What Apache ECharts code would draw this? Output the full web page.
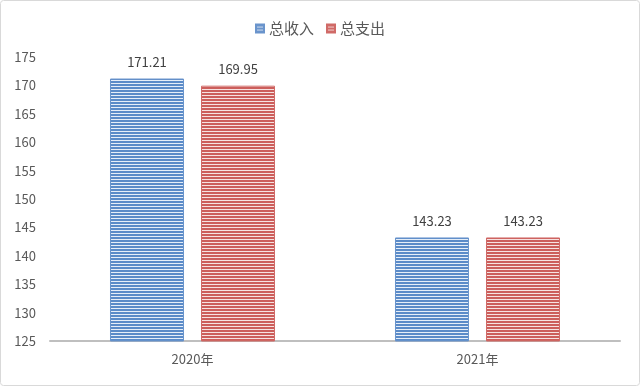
<!DOCTYPE html>
<html><head><meta charset="utf-8">
<script src="https://cdn.jsdelivr.net/npm/echarts@6/dist/echarts.min.js"></script>
<style>html,body{margin:0;padding:0;background:#fff}#c{width:640px;height:386px}</style>
</head><body><div id="c"></div>
<script>
const categories = ['2020年', '2021年'];
const seriesNames = ['总收入', '总支出'];
const incomeValues = [171.21, 143.23];
const expenseValues = [169.95, 143.23];
const yTicks = [125, 130, 135, 140, 145, 150, 155, 160, 165, 170, 175];

function stripe(base, light) {
  const cv = document.createElement('canvas');
  cv.width = 4; cv.height = 3;
  const ctx = cv.getContext('2d');
  ctx.fillStyle = base; ctx.fillRect(0, 0, 4, 3);
  ctx.fillStyle = light; ctx.fillRect(0, 2, 4, 1);
  return {image: cv, repeat: 'repeat'};
}
const chart = echarts.init(document.getElementById('c'), null, {renderer: 'canvas'});
const font = "'Microsoft YaHei','Noto Sans CJK SC',sans-serif";
chart.setOption({
  animation: false,
  textStyle: {fontFamily: font},
  graphic: [{type: 'rect', shape: {x: 0.5, y: 0.5, width: 639, height: 385, r: 3},
    style: {fill: 'none', stroke: '#d9d9d9', lineWidth: 1}, silent: true}],
  legend: {
    top: 16, left: 'center', itemWidth: 8, itemHeight: 8, itemGap: 12, icon: 'rect',
    textStyle: {color: '#595959', fontSize: 15, fontFamily: font},
    data: [{name: seriesNames[0], itemStyle: {color: stripe('#6a94cc', '#cfdcee')}},
           {name: seriesNames[1], itemStyle: {color: stripe('#d06a67', '#f0cfce')}}]
  },
  grid: {left: 50, right: 20, top: 57, bottom: 45},
  xAxis: {
    type: 'category', data: categories,
    axisLine: {lineStyle: {color: '#bfbfbf', width: 2}},
    axisTick: {show: false},
    axisLabel: {color: '#595959', fontSize: 13, margin: 12}
  },
  yAxis: {
    type: 'value', min: yTicks[0], max: yTicks[yTicks.length - 1], interval: 5,
    axisLine: {show: false}, axisTick: {show: false}, splitLine: {show: false},
    axisLabel: {color: '#595959', fontSize: 13, margin: 14, align: 'right'}
  },
  series: [
    {name: seriesNames[0], type: 'bar', data: incomeValues, barWidth: 74, barGap: '23%',
     itemStyle: {color: stripe('#5b8bc8', '#e6eef8'), borderColor: '#6a94cc', borderWidth: 1},
     label: {show: true, position: 'top', distance: 10, color: '#404040', fontSize: 13}},
    {name: seriesNames[1], type: 'bar', data: expenseValues, barWidth: 74,
     itemStyle: {color: stripe('#cc5e5b', '#f6e2e1'), borderColor: '#d06a67', borderWidth: 1},
     label: {show: true, position: 'top', distance: 10, color: '#404040', fontSize: 13}}
  ]
});
</script></body></html>
